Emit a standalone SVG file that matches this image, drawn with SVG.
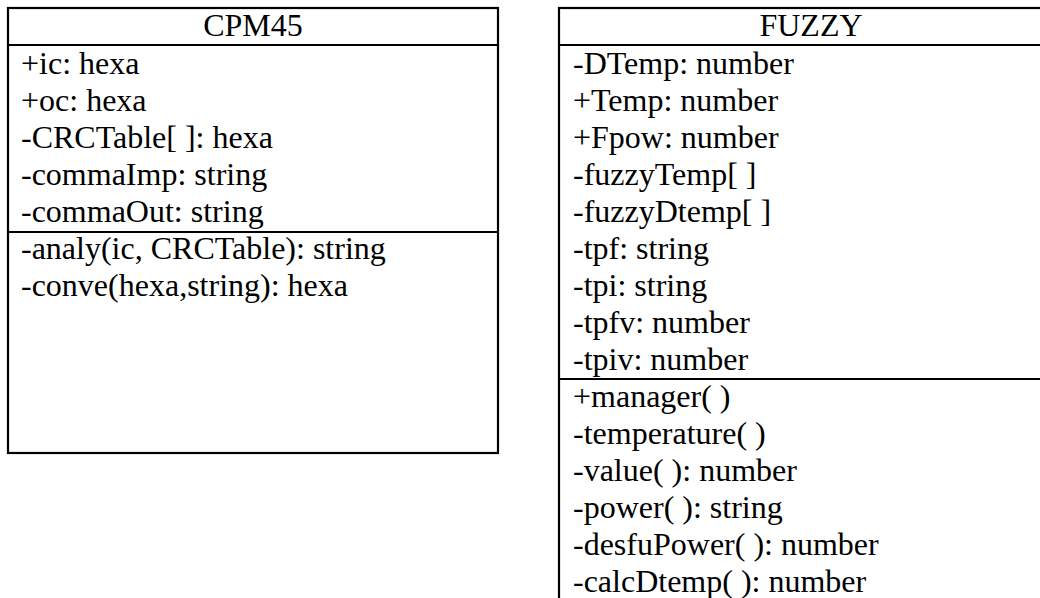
<svg xmlns="http://www.w3.org/2000/svg" width="1040" height="598" viewBox="0 0 1040 598">
<style>
.box{fill:#fff;stroke:#000;stroke-width:2.2}
.div{stroke:#000;stroke-width:2.2}
text{font-family:"Times New Roman","Liberation Serif",Tinos,"Nimbus Roman","DejaVu Serif",serif;font-size:32px;fill:#000}
.t{text-anchor:middle}
</style>
<rect width="1040" height="598" fill="#fff"/>
<g id="cpm45">
<rect class="box" x="8" y="8" width="490" height="445"/>
<line class="div" x1="8" y1="45" x2="498" y2="45"/>
<line class="div" x1="8" y1="232" x2="498" y2="232"/>
<text class="t" x="253" y="36">CPM45</text>
<text x="21" y="74">+ic: hexa</text>
<text x="21" y="111">+oc: hexa</text>
<text x="21" y="148">-CRCTable[ ]: hexa</text>
<text x="21" y="185">-commaImp: string</text>
<text x="21" y="222">-commaOut: string</text>
<text x="21" y="259">-analy(ic, CRCTable): string</text>
<text x="21" y="296">-conve(hexa,string): hexa</text>
</g>
<g id="fuzzy">
<rect class="box" x="559" y="8" width="504" height="620"/>
<line class="div" x1="559" y1="45" x2="1063" y2="45"/>
<line class="div" x1="559" y1="379" x2="1063" y2="379"/>
<text class="t" x="811" y="36">FUZZY</text>
<text x="573" y="74">-DTemp: number</text>
<text x="573" y="111">+Temp: number</text>
<text x="573" y="148">+Fpow: number</text>
<text x="573" y="185">-fuzzyTemp[ ]</text>
<text x="573" y="222">-fuzzyDtemp[ ]</text>
<text x="573" y="259">-tpf: string</text>
<text x="573" y="296">-tpi: string</text>
<text x="573" y="333">-tpfv: number</text>
<text x="573" y="370">-tpiv: number</text>
<text x="573" y="407">+manager( )</text>
<text x="573" y="444">-temperature( )</text>
<text x="573" y="481">-value( ): number</text>
<text x="573" y="518">-power( ): string</text>
<text x="573" y="555">-desfuPower( ): number</text>
<text x="573" y="592">-calcDtemp( ): number</text>
</g>
<g id="connectors"/>
</svg>
